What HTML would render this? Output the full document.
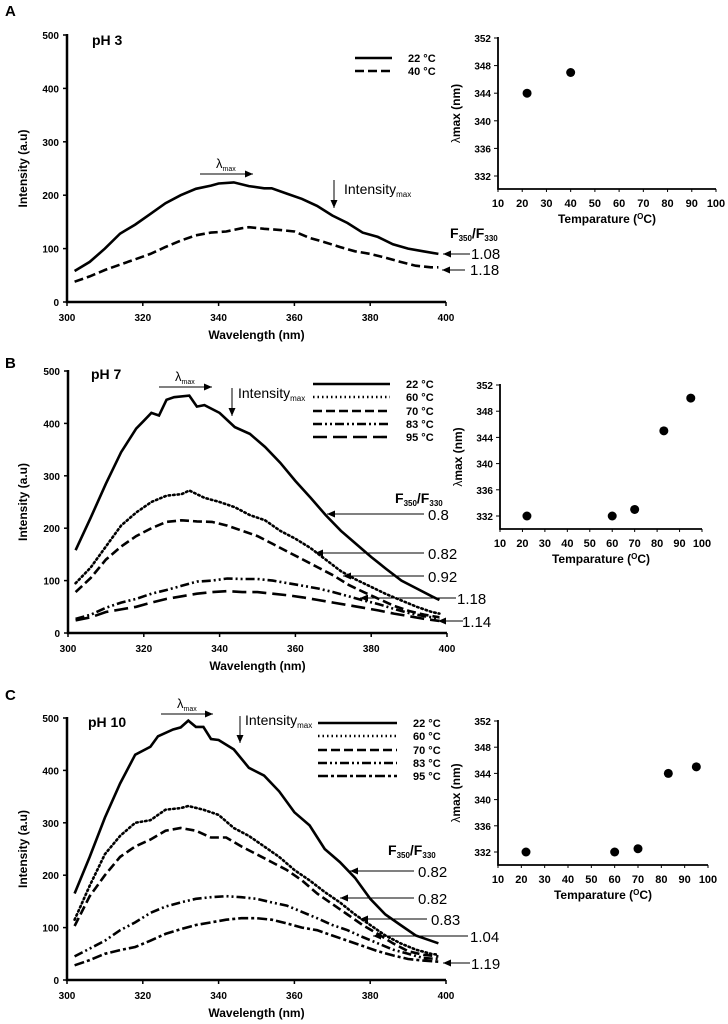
<!DOCTYPE html>
<html><head><meta charset="utf-8"><style>
body{margin:0;background:#fff;}
svg{display:block;font-family:"Liberation Sans",Arial,sans-serif;}
.tk{font-size:10px;font-weight:bold;}
.ti{font-size:12px;font-weight:bold;}
.an{font-size:14px;}
</style></head><body>
<svg id="fig" width="728" height="1024" viewBox="0 0 728 1024"></svg>
<script>
// ---- data ----
const wlTicks=[300,320,340,360,380,400];
const intTicks=[0,100,200,300,400,500];
const tempTicks=[10,20,30,40,50,60,70,80,90,100];
const lamTicks=[332,336,340,344,348,352];

const aW22=[302,306,310,314,318,322,326,330,334,338,340,344,348,352,354,358,362,366,370,374,378,382,386,390,394,398];
const aI22=[58,75,100,128,145,165,185,200,212,218,222,224,217,213,213,203,193,180,162,148,130,122,108,100,95,90];
const aW40=[302,306,310,314,318,322,326,330,334,338,342,346,348,352,356,360,364,368,372,376,380,384,388,392,396,398];
const aI40=[38,48,60,70,80,90,103,115,125,130,132,138,140,137,135,132,120,112,103,95,90,83,75,68,65,65];

const bW22=[302,306,310,314,318,320,322,324,326,328,332,334,336,340,344,348,352,356,360,364,368,372,376,380,384,388,392,396,398];
const bI22=[158,220,285,345,390,405,420,415,445,450,453,432,435,420,393,380,355,325,290,258,225,195,170,145,122,100,85,70,63];
const bW60=[302,306,310,314,318,322,326,330,332,336,340,344,348,352,356,360,364,368,372,376,380,384,388,392,396,398];
const bI60=[95,125,165,205,230,250,262,265,272,258,250,240,225,215,195,180,162,140,118,102,88,74,62,50,40,37];
const bW=[302,306,310,314,318,322,326,330,334,338,342,346,350,354,358,362,366,370,374,378,382,386,390,394,398];
const bI70=[78,105,140,165,185,200,212,215,213,212,205,195,185,170,155,140,125,110,92,78,65,52,42,35,30];
const bI83=[27,35,48,58,65,75,82,90,98,100,104,103,103,100,95,90,85,78,70,62,55,46,38,32,28];
const bI95=[24,30,40,45,50,58,65,70,75,78,80,78,78,75,72,68,63,58,53,48,43,37,32,27,23];

const cW22=[302,306,310,314,318,322,324,328,330,332,334,336,338,340,344,348,352,356,360,364,368,372,376,380,384,388,392,396,398];
const cI22=[165,235,310,375,430,445,465,478,482,495,483,483,460,458,440,405,390,360,320,295,250,225,195,155,125,105,85,75,70];
const cW60=[302,306,310,314,318,322,326,330,332,336,340,344,348,352,356,360,364,368,372,376,380,384,388,392,396,398];
const cI60=[115,180,240,275,300,305,325,328,332,325,315,290,275,255,235,210,190,168,148,125,105,85,70,58,50,48];
const cW=[302,306,310,314,318,322,326,330,334,338,342,346,350,354,358,362,366,370,374,378,382,386,390,394,398];
const cI70=[103,160,200,235,255,268,285,290,285,272,272,255,240,225,210,190,165,145,125,105,88,70,55,48,45];
const cI83=[45,60,75,95,110,128,140,148,155,158,160,158,155,148,142,130,118,105,95,82,70,58,50,42,40];
const cI95=[28,38,50,57,63,75,88,97,105,110,115,118,118,115,108,100,95,85,75,65,55,47,40,37,35];

const temps3=[22,40]; const lam3=[344,347];
const temps7=[22,60,70,83,95]; const lam7=[332,332,333,345,350];
const temps10=[22,60,70,83,95]; const lam10=[332,332,332.5,344,345];

// ---- drawing ----
const svg=document.getElementById('fig');
const NS='http://www.w3.org/2000/svg';
function mk(tag,attrs,txt){const e=document.createElementNS(NS,tag);for(const k in attrs)e.setAttribute(k,attrs[k]);if(txt!==undefined)e.textContent=txt;svg.appendChild(e);return e;}

const styles={solid:'',dot:'1.5 3',dash:'9 4',dashdotdot:'9 3 2 3 2 3',longdash:'14 6',dashdot:'10 3 3 3'};

function spectrum(name,px,py,W,I,style){
  let d='';W.forEach((w,i)=>{d+=(i?'L':'M')+px(w).toFixed(1)+' '+py(I[i]).toFixed(1);});
  const p=mk('path',{d:d,fill:'none',stroke:'#000','stroke-width':2.6,'stroke-dasharray':styles[style],'stroke-linecap':style==='dot'?'round':'butt'});
  
  
}

function specPanel(key,x0,x1,y0,y5,series){
  const px=w=>x0+(w-300)/100*(x1-x0);
  const py=v=>y0-v/500*(y0-y5);
  const ax=mk('path',{d:`M${x0} ${y5-1}L${x0} ${y0}L${x1} ${y0}`,fill:'none',stroke:'#000','stroke-width':2.5});
  
  
  intTicks.forEach(v=>{
    mk('line',{x1:x0-4,x2:x0,y1:py(v),y2:py(v),stroke:'#000','stroke-width':1.5});
    const t=mk('text',{x:x0-8,y:py(v)+4,'text-anchor':'end',class:'tk'},v);
    
    
  });
  wlTicks.forEach(w=>{
    mk('line',{x1:px(w),x2:px(w),y1:y0,y2:y0+4,stroke:'#000','stroke-width':1.5});
    const t=mk('text',{x:px(w),y:y0+19,'text-anchor':'middle',class:'tk'},w);
    
    
  });
  const yt=mk('text',{x:0,y:0,transform:`translate(27 ${(y0+y5)/2}) rotate(-90)`,'text-anchor':'middle',style:'font-size:12px;font-weight:bold'},'Intensity (a.u)');
  
  
  const xt=mk('text',{x:(x0+x1)/2,y:y0+37,'text-anchor':'middle',class:'ti'},'Wavelength (nm)');
  
  
  series.forEach(s=>spectrum(key+'-curve-'+s[0],px,py,s[1],s[2],s[3]));
}

function scatter(key,x0,x1,yAxis,y332,y352,T,L){
  const px=t=>x0+(t-10)/90*(x1-x0);
  const py=l=>y332-(l-332)/20*(y332-y352);
  const ax=mk('path',{d:`M${x0} ${y352-1}L${x0} ${yAxis}L${x1} ${yAxis}`,fill:'none',stroke:'#000','stroke-width':1.8});
  
  
  lamTicks.forEach(v=>{
    mk('line',{x1:x0-4,x2:x0,y1:py(v),y2:py(v),stroke:'#000','stroke-width':1});
    const t=mk('text',{x:x0-7,y:py(v)+4,'text-anchor':'end',class:'tk'},v);
    
    
  });
  tempTicks.forEach(v=>{
    mk('line',{x1:px(v),x2:px(v),y1:yAxis,y2:yAxis+3,stroke:'#000','stroke-width':1});
    const t=mk('text',{x:px(v),y:yAxis+18,'text-anchor':'middle',class:'tk',style:'font-size:11px'},v);
    
    
  });
  const xt=mk('text',{x:(x0+x1)/2,y:yAxis+34,'text-anchor':'middle',class:'ti'});
  xt.innerHTML='Temparature (<tspan font-size="8" dy="-4">O</tspan><tspan dy="4">C)</tspan>';
  
  
  const yt=mk('text',{transform:`translate(${x0-38} ${(y352+yAxis)/2}) rotate(-90)`,'text-anchor':'middle',class:'ti'});
  yt.innerHTML='<tspan font-weight="normal">λ</tspan>max (nm)';
  
  
  T.forEach((t,i)=>{
    const c=mk('circle',{cx:px(t),cy:py(L[i]),r:4.5,fill:'#000'});
    
    
  });
}

function label(name,x,y,txt,cls,extra){
  const t=mk('text',Object.assign({x:x,y:y,class:cls},extra||{}));
  t.innerHTML=txt;
  
  
}
function arrow(name,x1,y1,x2,y2){
  const g=mk('line',{x1:x1,y1:y1,x2:x2,y2:y2,stroke:'#000','stroke-width':1});
  
  
  const a=Math.atan2(y2-y1,x2-x1),s=8;
  const p=`${x2},${y2} ${x2-s*Math.cos(a)+3.5*Math.sin(a)},${y2-s*Math.sin(a)-3.5*Math.cos(a)} ${x2-s*Math.cos(a)-3.5*Math.sin(a)},${y2-s*Math.sin(a)+3.5*Math.cos(a)}`;
  mk('polygon',{points:p,fill:'#000'});
}
function legend(key,x1,x2,ys,names,st){
  ys.forEach((y,i)=>{
    const l=mk('line',{x1:x1,x2:x2,y1:y,y2:y,stroke:'#000','stroke-width':2.6,'stroke-dasharray':styles[st[i]]});
    
    
    label(key+'-legend-entry',x2+16,y+4,names[i],'tk',{style:'font-size:11px'});
  });
}
const lam='λ<tspan font-size="7" dy="3">max</tspan>';
const imax='Intensity<tspan font-size="8" dy="3">max</tspan>';
const fr='F<tspan font-size="8" dy="3">350</tspan><tspan dy="-3">/F</tspan><tspan font-size="8" dy="3">330</tspan>';

// Panel A
specPanel('pH3',67,446,302,35,[['22C',aW22,aI22,'solid'],['40C',aW40,aI40,'dash']]);
label('panel-a-label',5,16,'A','ti',{style:'font-size:15px;font-weight:bold'});
label('pH3-title',92,45,'pH 3','ti',{style:'font-size:14px;font-weight:bold'});
legend('pH3',355,392,[58,71],['22 °C','40 °C'],['solid','dash']);
label('pH3-lambda-label',216,168,lam,'an',{style:'font-size:13px'});
arrow('pH3-lambda-arrow',200,174,253,174);
arrow('pH3-intensity-arrow',334,180,334,208);
label('pH3-intensity-label',344,194,imax,'an');
label('pH3-ratio-title',450,238,fr,'ti',{style:'font-size:14px;font-weight:bold'});
arrow('pH3-arrow-108',470,254,443,254);label('pH3-ratio-108',471,259,'1.08','an',{style:'font-size:15px'});
arrow('pH3-arrow-118',465,270,442,270);label('pH3-ratio-118',470,275,'1.18','an',{style:'font-size:15px'});
scatter('pH3',498,716,189,176,38,temps3,lam3);

// Panel B
specPanel('pH7',68,447,633,371,[['22C',bW22,bI22,'solid'],['60C',bW60,bI60,'dot'],['70C',bW,bI70,'dash'],['83C',bW,bI83,'dashdotdot'],['95C',bW,bI95,'longdash']]);
label('panel-b-label',5,368,'B','ti',{style:'font-size:15px;font-weight:bold'});
label('pH7-title',91,379,'pH 7','ti',{style:'font-size:14px;font-weight:bold'});
legend('pH7',313,390,[384,397,411,424,437],['22 °C','60 °C','70 °C','83 °C','95 °C'],['solid','dot','dash','dashdotdot','longdash']);
label('pH7-lambda-label',175,381,lam,'an',{style:'font-size:13px'});
arrow('pH7-lambda-arrow',159,387,212,387);
arrow('pH7-intensity-arrow',232,388,232,416);
label('pH7-intensity-label',238,398,imax,'an');
label('pH7-ratio-title',395,503,fr,'ti',{style:'font-size:14px;font-weight:bold'});
arrow('pH7-arrow-08',424,514,327,514);label('pH7-ratio-08',428,520,'0.8','an',{style:'font-size:15px'});
arrow('pH7-arrow-082',424,553,315,553);label('pH7-ratio-082',428,559,'0.82','an',{style:'font-size:15px'});
arrow('pH7-arrow-092',424,576,343,576);label('pH7-ratio-092',428,582,'0.92','an',{style:'font-size:15px'});
arrow('pH7-arrow-118',456,598,360,598);label('pH7-ratio-118',457,604,'1.18','an',{style:'font-size:15px'});
arrow('pH7-arrow-114',463,621,438,621);label('pH7-ratio-114',462,627,'1.14','an',{style:'font-size:15px'});
scatter('pH7',500,702,529,516,385,temps7,lam7);

// Panel C
specPanel('pH10',67,446,980,718,[['22C',cW22,cI22,'solid'],['60C',cW60,cI60,'dot'],['70C',cW,cI70,'dash'],['83C',cW,cI83,'dashdotdot'],['95C',cW,cI95,'dashdot']]);
label('panel-c-label',5,700,'C','ti',{style:'font-size:15px;font-weight:bold'});
label('pH10-title',88,727,'pH 10','ti',{style:'font-size:14px;font-weight:bold'});
legend('pH10',318,397,[723,736,750,763,776],['22 °C','60 °C','70 °C','83 °C','95 °C'],['solid','dot','dash','dashdotdot','dashdot']);
label('pH10-lambda-label',177,708,lam,'an',{style:'font-size:13px'});
arrow('pH10-lambda-arrow',161,714,213,714);
arrow('pH10-intensity-arrow',240,716,240,743);
label('pH10-intensity-label',245,725,imax,'an');
label('pH10-ratio-title',388,855,fr,'ti',{style:'font-size:14px;font-weight:bold'});
arrow('pH10-arrow-082a',414,871,350,871);label('pH10-ratio-082a',418,877,'0.82','an',{style:'font-size:15px'});
arrow('pH10-arrow-082b',414,898,340,898);label('pH10-ratio-082b',418,904,'0.82','an',{style:'font-size:15px'});
arrow('pH10-arrow-083',427,919,360,919);label('pH10-ratio-083',431,925,'0.83','an',{style:'font-size:15px'});
arrow('pH10-arrow-104',468,936,373,936);label('pH10-ratio-104',470,942,'1.04','an',{style:'font-size:15px'});
arrow('pH10-arrow-119',470,963,443,963);label('pH10-ratio-119',471,969,'1.19','an',{style:'font-size:15px'});
scatter('pH10',498,708,865,852,721,temps10,lam10);
</script>
</body></html>
